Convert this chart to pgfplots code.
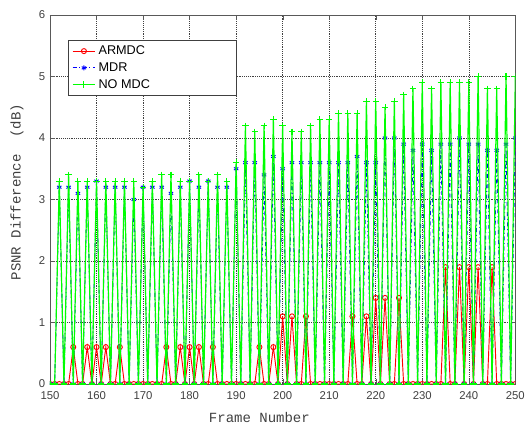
\documentclass[border=0pt]{standalone}
\usepackage{fontspec}
\setmainfont{Liberation Sans}
\newfontfamily\labelfont{Liberation Mono}
\usepackage{pgfplots}
\usepackage{pgfplotstable}
\pgfplotsset{compat=1.18}

% x = frame, a = ARMDC, m = MDR, n = NO MDC
\pgfplotstableread{
x a m n
150 0 0 0
151 0 0 0
152 0 3.2 3.3
153 0 0 0
154 0 3.2 3.4
155 0.6 0 0
156 0 3.1 3.3
157 0 0 0
158 0.6 3.2 3.3
159 0 0 0
160 0.6 3.3 3.3
161 0 0 0
162 0.6 3.2 3.3
163 0 0 0
164 0 3.2 3.3
165 0.6 0 0
166 0 3.2 3.3
167 0 0 0
168 0 3.0 3.3
169 0 0 0
170 0 3.2 3.2
171 0 0 0
172 0 3.2 3.3
173 0 0 0
174 0 3.2 3.4
175 0.6 0 0
176 0 3.1 3.4
177 0 0 0
178 0.6 3.2 3.3
179 0 0 0
180 0.6 3.3 3.3
181 0 0 0
182 0.6 3.2 3.4
183 0 0 0
184 0 3.3 3.3
185 0.6 0 0
186 0 3.2 3.4
187 0 0 0
188 0 3.2 3.3
189 0 0 0
190 0 3.5 3.6
191 0 0 0
192 0 3.6 4.2
193 0 0 0
194 0 3.6 4.1
195 0.6 0 0
196 0 3.4 4.2
197 0 0 0
198 0.6 3.7 4.3
199 0 0 0
200 1.1 3.5 4.2
201 0 0 0
202 1.1 3.6 4.1
203 0 0 0
204 0 3.6 4.1
205 1.1 0 0
206 0 3.6 4.2
207 0 0 0
208 0 3.6 4.3
209 0 0 0
210 0 3.6 4.3
211 0 0 0
212 0 3.6 4.4
213 0 0 0
214 0 3.6 4.4
215 1.1 0 0
216 0 3.7 4.4
217 0 0 0
218 1.1 3.6 4.6
219 0 0 0
220 1.4 3.6 4.6
221 0 0 0
222 1.4 4.0 4.5
223 0 0 0
224 0 4.0 4.6
225 1.4 0 0
226 0 3.9 4.7
227 0 0 0
228 0 3.8 4.8
229 0 0 0
230 0 3.9 4.9
231 0 0 0
232 0 3.8 4.8
233 0 0 0
234 0 3.9 4.9
235 1.9 0 0
236 0 3.9 4.9
237 0 0 0
238 1.9 4.0 4.9
239 0 0 0
240 1.9 3.9 4.9
241 0 0 0
242 1.9 3.9 5.0
243 0 0 0
244 0 3.8 4.8
245 1.9 0 0
246 0 3.8 4.8
247 0 0 0
248 0 3.9 5.0
249 0 0 0
250 0 4.0 5.0
}\psnr

\begin{document}
\begin{tikzpicture}
  \begin{axis}[
    scale only axis, width=349pt, height=276.75pt,
    xmin=150, xmax=250, ymin=0, ymax=6,
    xtick={150,160,...,250}, ytick={0,1,...,6},
    grid=major, grid style={black!75, densely dotted},
    axis line style={black!65}, tick style={black!65},
    tick align=inside, major tick length=3.5pt,
    ticklabel style={font=\fontsize{8.5}{10}\selectfont, text=black!75},
    xticklabel style={yshift=-2pt},
    /pgf/number format/assume math mode=true,
    /pgf/number format/1000 sep={},
    xlabel={Frame Number}, ylabel={PSNR Difference\ \ (dB)},
    label style={font=\labelfont\fontsize{10.5}{12}\selectfont, text=black!75},
    xlabel style={at={(axis description cs:0.45,-0.092)}, anchor=center},
    ylabel style={at={(axis description cs:-0.071,0.52)}, anchor=center},
    legend style={at={(0.038,0.932)}, anchor=north west, draw=black!75,
                  font=\fontsize{9.5}{11}\selectfont, row sep=0.5pt},
    legend cell align=left,
    clip marker paths=true,
  ]
    \addplot[red, line width=0.7pt, mark=o, mark size=1.9pt]
      table[x=x, y=a] {\psnr};
    \addplot[blue, line width=0.7pt, dashdotted, mark=asterisk, mark size=1.9pt,
             mark options={solid}]
      table[x=x, y=m] {\psnr};
    \addplot[green, line width=0.9pt, mark=+, mark size=2.4pt,
             mark options={line width=0.8pt}]
      table[x=x, y=n] {\psnr};
    \addlegendentry{\makebox[98pt][l]{ARMDC}}
    \addlegendentry{\makebox[98pt][l]{MDR}}
    \addlegendentry{\makebox[98pt][l]{NO MDC}}
  \end{axis}
  \pgfresetboundingbox
  \useasboundingbox (-37.5pt,-31.5pt) rectangle (357pt,288pt);
\end{tikzpicture}
\end{document}
